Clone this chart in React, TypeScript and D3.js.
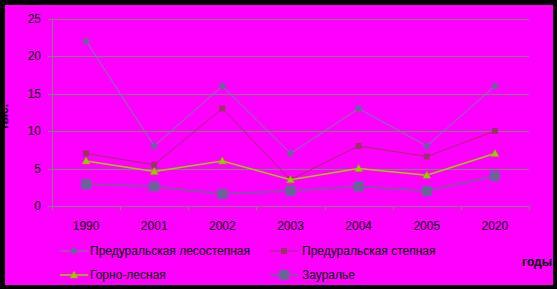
import React from "react";
import * as d3 from "d3";

const categories = ["1990", "2001", "2002", "2003", "2004", "2005", "2020"];
const seriesNames = [
  "Предуральская лесостепная",
  "Предуральская степная",
  "Горно-лесная",
  "Зауралье",
];
const lesostep = [22, 8, 16, 7, 13, 8, 16];
const step = [7, 5.5, 13, 3.5, 8, 6.6, 10];
const gorno = [6, 4.6, 6, 3.5, 5, 4.1, 7];
const zaurale = [2.9, 2.6, 1.6, 2.0, 2.6, 2.0, 4.0];
const yTicks = [0, 5, 10, 15, 20, 25];

const W = 557;
const H = 289;
const font = "'Liberation Sans', Arial, sans-serif";

type Marker = "diamond" | "square" | "triangle" | "bigsquare";

const seriesList: { name: string; values: number[]; line: string; fill: string; marker: Marker; width: number }[] = [
  { name: seriesNames[0], values: lesostep, line: "#668899", fill: "#666699", marker: "diamond", width: 1 },
  { name: seriesNames[1], values: step, line: "#993366", fill: "#993366", marker: "square", width: 1 },
  { name: seriesNames[2], values: gorno, line: "#99cc00", fill: "#99cc00", marker: "triangle", width: 1.5 },
  { name: seriesNames[3], values: zaurale, line: "#666699", fill: "#666699", marker: "bigsquare", width: 1.5 },
];

function MarkerShape({ type, x, y, fill }: { type: Marker; x: number; y: number; fill: string }) {
  if (type === "diamond") {
    return <path d={`M${x},${y - 4}L${x + 4},${y}L${x},${y + 4}L${x - 4},${y}Z`} fill={fill} />;
  }
  if (type === "square") {
    return <rect x={x - 3} y={y - 3} width={6} height={6} fill={fill} />;
  }
  if (type === "triangle") {
    return <path d={`M${x},${y - 4}L${x + 4},${y + 3}L${x - 4},${y + 3}Z`} fill={fill} stroke="#8aa000" strokeWidth={0.5} />;
  }
  return <rect x={x - 5} y={y - 5} width={10} height={10} fill={fill} />;
}

export default function App() {
  const x = d3.scaleBand<string>().domain(categories).range([52, 529]).paddingInner(0).paddingOuter(0);
  const y = d3.scaleLinear().domain([0, 25]).range([206, 18.5]);
  const cx = (c: string) => (x(c) as number) + x.bandwidth() / 2;
  const line = d3
    .line<number>()
    .x((_, i) => cx(categories[i]))
    .y((v) => y(v));

  const boundaries = categories.map((c) => x(c) as number).concat([529]);

  const legendPos = [
    { lx: 60, ty: 251, tx: 90 },
    { lx: 270, ty: 251, tx: 302 },
    { lx: 60, ty: 275, tx: 90 },
    { lx: 270, ty: 275, tx: 302 },
  ];

  return (
    <svg width={W} height={H} style={{ position: "absolute", left: 0, top: 0 }} fontFamily={font}>
      <rect x={0} y={0} width={W} height={H} fill="#ff00ff" />
      {/* gridlines */}
      {yTicks.map((t) => (
        <line key={t} x1={48} x2={529} y1={Math.round(y(t)) + 0.5} y2={Math.round(y(t)) + 0.5} stroke="#808080" strokeWidth={1} />
      ))}
      {/* y axis */}
      <line x1={52.5} x2={52.5} y1={y(25)} y2={y(0)} stroke="#808080" />
      {/* x ticks */}
      {boundaries.map((b, i) => (
        <line key={i} x1={Math.round(b) + 0.5} x2={Math.round(b) + 0.5} y1={206} y2={210} stroke="#808080" />
      ))}
      {yTicks.map((t) => (
        <text key={t} x={41} y={y(t)} dy="0.35em" textAnchor="end" fontSize={12} fill="#000">
          {t}
        </text>
      ))}
      {categories.map((c) => (
        <text key={c} x={cx(c)} y={226} dy="0.35em" textAnchor="middle" fontSize={12} fill="#000">
          {c}
        </text>
      ))}
      {/* series */}
      {seriesList.map((s) => (
        <g key={s.name}>
          <path d={line(s.values) as string} fill="none" stroke={s.line} strokeWidth={s.width} />
          {s.values.map((v, i) => (
            <MarkerShape key={i} type={s.marker} x={cx(categories[i])} y={y(v)} fill={s.fill} />
          ))}
        </g>
      ))}
      {/* legend */}
      {seriesList.map((s, i) => {
        const p = legendPos[i];
        return (
          <g key={s.name}>
            <line x1={p.lx} x2={p.lx + 28} y1={p.ty} y2={p.ty} stroke={s.line} strokeWidth={s.width} />
            <MarkerShape type={s.marker} x={p.lx + 14} y={p.ty} fill={s.fill} />
            <text x={p.tx} y={p.ty} dy="0.35em" fontSize={12} fill="#000">
              {s.name}
            </text>
          </g>
        );
      })}
      <text x={552} y={262} dy="0.35em" textAnchor="end" fontSize={12} fontWeight="bold" fill="#000">
        годы
      </text>
      <text transform="translate(8,117) rotate(-90)" textAnchor="middle" fontSize={12} fontWeight="bold" fill="#000">
        тыс.
      </text>
      {/* black frame */}
      <path
        d={`M0,0H${W}V${H}H0Z M5,5V285H553V5Z`}
        fill="#000"
        fillRule="evenodd"
      />
    </svg>
  );
}
